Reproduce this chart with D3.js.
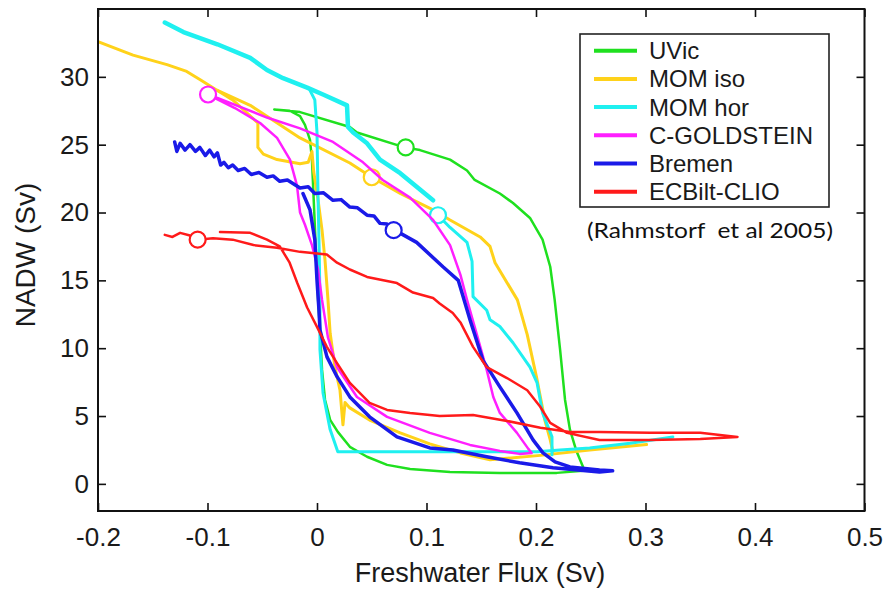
<!DOCTYPE html>
<html>
<head>
<meta charset="utf-8">
<script src="https://cdn.jsdelivr.net/npm/d3@7"></script>
<style>
  body { margin: 0; background: #fff; }
  svg { display: block; font-family: "Liberation Sans", Arial, sans-serif; }
</style>
</head>
<body>
<div id="chart"></div>
<script>
// NADW hysteresis curves vs freshwater flux, six models (Rahmstorf et al 2005)

const models = ["UVic", "MOM iso", "MOM hor", "C-GOLDSTEIN", "Bremen", "ECBilt-CLIO"];
const xTicks = [-0.2, -0.1, 0, 0.1, 0.2, 0.3, 0.4, 0.5];
const yTicks = [0, 5, 10, 15, 20, 25, 30];

// [freshwater flux (Sv), NADW (Sv)]
const uvicLoop = [
  [-0.039, 27.6], [-0.0155, 27.4], [0.030, 26.3], [0.0365, 25.9], [0.080, 24.8], [0.094, 24.6],
  [0.1215, 23.9], [0.137, 23.1], [0.144, 22.4], [0.167, 21.4], [0.179, 20.7], [0.1945, 19.6],
  [0.206, 18.0], [0.213, 16.0], [0.217, 13.6], [0.222, 9.9], [0.2265, 6.2], [0.231, 4.0],
  [0.237, 2.4], [0.243, 1.25], [0.243, 0.96], [0.219, 0.81], [0.167, 0.81], [0.1215, 0.88],
  [0.085, 1.1], [0.064, 1.4], [0.0457, 2.0], [0.030, 2.73], [0.019, 3.83], [0.012, 4.72],
  [0.0073, 6.2], [0.0046, 8.4], [0.0027, 11.35], [0.001, 13.56], [-0.001, 17.24], [-0.003, 20.93],
  [-0.0046, 23.9], [-0.0064, 25.35], [-0.011, 26.46], [-0.0155, 27.1], [-0.025, 27.5], [-0.039, 27.6]
];

const momIsoStep = [
  [-0.2, 32.6], [-0.168, 31.6], [-0.137, 30.9], [-0.119, 30.4], [-0.107, 29.8], [-0.091, 29.0],
  [-0.077, 28.3], [-0.054, 26.6], [-0.054, 24.8], [-0.049, 24.3], [-0.0365, 23.9], [-0.0155, 23.6],
  [-0.008, 23.7], [-0.0046, 24.5], [-0.003, 23.0], [0.001, 20.9], [0.0046, 18.7], [0.0073, 16.5],
  [0.010, 13.6], [0.012, 11.1], [0.0164, 8.6], [0.021, 6.9], [0.0237, 4.35], [0.0256, 6.0],
  [0.030, 5.6], [0.048, 4.7], [0.076, 3.76], [0.103, 2.95], [0.131, 2.28], [0.158, 1.77],
  [0.204, 2.1], [0.249, 2.5], [0.301, 2.9]
];
const momIsoUpper = [
  [-0.091, 29.0], [-0.061, 27.9], [-0.0155, 25.5], [0.030, 23.65], [0.050, 22.6], [0.076, 21.4],
  [0.106, 20.2], [0.1215, 19.45], [0.149, 18.2], [0.158, 17.5], [0.1626, 16.3], [0.176, 14.5],
  [0.183, 13.56], [0.192, 11.0], [0.201, 7.66], [0.208, 4.72], [0.213, 3.24], [0.2155, 2.36]
];

const momHorUpper = [
  [-0.139, 34.0], [-0.122, 33.3], [-0.091, 32.4], [-0.061, 31.4], [-0.0457, 30.5], [-0.031, 29.9],
  [-0.009, 29.2], [0.0055, 28.7], [0.0274, 27.9], [0.0283, 26.3], [0.033, 25.9], [0.0457, 25.1],
  [0.0575, 23.9], [0.076, 22.9], [0.106, 20.9]
];
const momHorDrop = [
  [-0.0064, 29.0], [-0.002, 28.3], [0, 25.9], [0.001, 20.9], [0.002, 17.2], [0.0027, 13.6],
  [0.0027, 9.9], [0.0055, 6.7], [0.012, 4.0], [0.019, 2.36], [0.103, 2.36], [0.201, 2.36],
  [0.222, 2.5], [0.249, 2.65], [0.286, 3.0], [0.325, 3.46]
];
const momHorReturn = [
  [0.1105, 19.8], [0.1215, 18.9], [0.137, 17.8], [0.1416, 16.4], [0.1425, 13.8], [0.155, 12.8],
  [0.158, 12.1], [0.167, 11.6], [0.179, 10.4], [0.1945, 8.6], [0.201, 7.44], [0.206, 5.23],
  [0.2146, 3.46], [0.2146, 2.14]
];

const goldsteinLoop = [
  [-0.0995, 28.7], [-0.091, 28.45], [-0.0457, 27.0], [-0.0155, 26.2], [0.0146, 25.2], [0.042, 23.7],
  [0.060, 22.4], [0.085, 21.1], [0.106, 19.45], [0.1215, 17.6], [0.131, 15.4], [0.137, 13.56],
  [0.146, 11.0], [0.155, 8.4], [0.161, 6.4], [0.167, 5.23], [0.1826, 3.76], [0.193, 2.58],
  [0.196, 2.28], [0.185, 2.21], [0.167, 2.43], [0.1397, 2.87], [0.103, 3.76], [0.064, 4.94],
  [0.0365, 6.4], [0.0183, 8.6], [0.010, 10.8], [0.0046, 13.56], [0.001, 15.8], [-0.0046, 17.6],
  [-0.011, 19.1], [-0.0155, 20.0], [-0.0183, 22.0], [-0.0247, 23.9], [-0.0365, 25.5], [-0.052, 26.6],
  [-0.075, 27.7], [-0.095, 28.5]
];

const bremenLoop = [
  [-0.130, 25.2], [-0.128, 24.5], [-0.125, 25.1], [-0.1205, 24.6], [-0.116, 25.0], [-0.111, 24.5],
  [-0.107, 24.8], [-0.102, 24.2], [-0.098, 24.6], [-0.094, 24.1], [-0.091, 24.4], [-0.088, 23.5],
  [-0.085, 23.7], [-0.081, 23.3], [-0.077, 23.5], [-0.072, 23.1], [-0.066, 23.25], [-0.060, 22.8],
  [-0.053, 22.95], [-0.0457, 22.6], [-0.040, 22.7], [-0.034, 22.3], [-0.027, 22.4], [-0.0155, 21.8],
  [-0.008, 21.9], [-0.002, 21.4], [0.006, 21.45], [0.0146, 20.9], [0.022, 20.95], [0.030, 20.4],
  [0.037, 20.35], [0.0457, 19.8], [0.052, 19.75], [0.0575, 19.2], [0.064, 19.15], [0.071, 18.7],
  [0.091, 17.8], [0.115, 16.0], [0.129, 15.0], [0.1397, 12.1], [0.1516, 9.1], [0.167, 7.15],
  [0.1826, 5.23], [0.1973, 3.24], [0.2064, 2.28], [0.2174, 1.62], [0.231, 1.25], [0.258, 1.03],
  [0.270, 0.96], [0.258, 0.88], [0.2155, 1.18], [0.185, 1.55], [0.155, 2.0], [0.124, 2.5],
  [0.103, 2.65], [0.073, 3.46], [0.048, 4.94], [0.030, 6.41], [0.0183, 7.9], [0.0091, 9.36],
  [0.0027, 11.35], [0.0018, 12.8], [0, 15.0], [-0.002, 18.0], [-0.0064, 20.2], [-0.0128, 21.4]
];

const ecbiltLoop = [
  [-0.139, 18.35], [-0.132, 18.2], [-0.125, 18.5], [-0.116, 18.3], [-0.109, 18.0], [-0.095, 18.1],
  [-0.077, 18.0], [-0.058, 17.6], [-0.0365, 17.4], [-0.0155, 17.1], [0.009, 16.9], [0.0183, 16.3],
  [0.030, 15.8], [0.0457, 15.25], [0.073, 14.8], [0.0877, 14.1], [0.106, 13.7], [0.112, 13.3],
  [0.124, 12.6], [0.131, 11.9], [0.1425, 10.1], [0.155, 8.6], [0.1735, 7.8], [0.192, 6.9],
  [0.2037, 5.7], [0.213, 4.5], [0.2283, 3.76], [0.258, 3.24], [0.304, 3.24], [0.350, 3.3],
  [0.384, 3.46], [0.350, 3.76], [0.304, 3.76], [0.258, 3.83], [0.231, 3.83], [0.204, 4.13],
  [0.1735, 4.64], [0.1425, 5.08], [0.112, 5.0], [0.085, 5.23], [0.064, 5.45], [0.048, 5.97],
  [0.030, 7.44], [0.0183, 8.9], [0.009, 10.1], [0, 11.57], [-0.009, 13.0], [-0.018, 14.8],
  [-0.025, 16.3], [-0.034, 17.5], [-0.0457, 18.0], [-0.061, 18.5], [-0.0886, 18.57]
];

// present-day state of each model (circles)
const presentDay = [[0.081, 24.8], [0.050, 22.6], [0.1105, 19.8], [-0.0995, 28.7], [0.070, 18.7], [-0.109, 18.0]];

const colors = ["#1fe01f", "#ffd21a", "#1ff0f0", "#ff1fff", "#1a1ae8", "#ff1a1a"];

const segments = [
  { m: 0, pts: uvicLoop, w: 2.5 },
  { m: 1, pts: momIsoStep, w: 3 },
  { m: 1, pts: momIsoUpper, w: 3 },
  { m: 2, pts: momHorUpper, w: 4.5 },
  { m: 2, pts: momHorDrop, w: 3 },
  { m: 2, pts: momHorReturn, w: 3 },
  { m: 3, pts: goldsteinLoop, w: 2.5 },
  { m: 4, pts: bremenLoop, w: 3.5 },
  { m: 5, pts: ecbiltLoop, w: 2.5 }
];

const width = 886, height = 593;
const plot = { left: 98, right: 864.5, top: 9, bottom: 511 };

const svg = d3.select("#chart").append("svg")
  .attr("width", width).attr("height", height)
  .attr("viewBox", [0, 0, width, height]);

svg.append("rect").attr("width", width).attr("height", height).attr("fill", "#fff");

// --- Scales ---
const x = d3.scaleLinear().domain([-0.2, 0.5]).range([plot.left, plot.right]);
const y = d3.scaleLinear().domain([-2, 35]).range([plot.bottom, plot.top]);

svg.append("clipPath").attr("id", "clip")
  .append("rect")
  .attr("x", plot.left).attr("y", plot.top)
  .attr("width", plot.right - plot.left).attr("height", plot.bottom - plot.top);

// --- Curves ---
const line = d3.line().x(d => x(d[0])).y(d => y(d[1]));
const g = svg.append("g").attr("clip-path", "url(#clip)");

models.forEach((name, i) => {
  segments.filter(s => s.m === i).forEach(s => {
    g.append("path")
      .attr("d", line(s.pts))
      .attr("fill", "none")
      .attr("stroke", colors[i])
      .attr("stroke-width", s.w)
      .attr("stroke-linejoin", "round")
      .attr("stroke-linecap", "round");
  });
  g.append("circle")
    .attr("cx", x(presentDay[i][0]))
    .attr("cy", y(presentDay[i][1]))
    .attr("r", 8)
    .attr("fill", "#fff")
    .attr("stroke", colors[i])
    .attr("stroke-width", 2.2);
});

// --- Axes (inward ticks, boxed) ---
const fmt = d => String(d);
const tickStyle = sel => {
  sel.select(".domain").remove();
  sel.selectAll(".tick line").attr("stroke", "#111").attr("stroke-width", 1.6);
  sel.selectAll(".tick text").attr("fill", "#1a1a1a").style("font-size", "26px");
};

svg.append("g")
  .attr("transform", `translate(0,${plot.bottom})`)
  .call(d3.axisBottom(x).tickValues(xTicks).tickFormat(fmt).tickSizeInner(-8).tickSizeOuter(0).tickPadding(17))
  .call(tickStyle);

svg.append("g")
  .attr("transform", `translate(0,${plot.top})`)
  .call(d3.axisTop(x).tickValues(xTicks).tickFormat("").tickSizeInner(-8).tickSizeOuter(0))
  .call(tickStyle);

svg.append("g")
  .attr("transform", `translate(${plot.left},0)`)
  .call(d3.axisLeft(y).tickValues(yTicks).tickFormat(fmt).tickSizeInner(-8).tickSizeOuter(0).tickPadding(9))
  .call(tickStyle);

svg.append("g")
  .attr("transform", `translate(${plot.right},0)`)
  .call(d3.axisRight(y).tickValues(yTicks).tickFormat("").tickSizeInner(-8).tickSizeOuter(0))
  .call(tickStyle);

svg.append("rect")
  .attr("x", plot.left).attr("y", plot.top)
  .attr("width", plot.right - plot.left).attr("height", plot.bottom - plot.top)
  .attr("fill", "none").attr("stroke", "#111").attr("stroke-width", 2);

// --- Axis labels ---
svg.append("text")
  .attr("x", 480).attr("y", 582)
  .attr("text-anchor", "middle")
  .attr("fill", "#1a1a1a")
  .style("font-size", "27px")
  .text("Freshwater Flux (Sv)");

svg.append("text")
  .attr("transform", "translate(35,255) rotate(-90)")
  .attr("text-anchor", "middle")
  .attr("fill", "#1a1a1a")
  .style("font-size", "28px")
  .text("NADW (Sv)");

// --- Legend ---
const legend = svg.append("g");
legend.append("rect")
  .attr("x", 580).attr("y", 34).attr("width", 249).attr("height", 173)
  .attr("fill", "#fff").attr("stroke", "#222").attr("stroke-width", 1.6);

models.forEach((name, i) => {
  const ly = 50.7 + i * 28.2;
  legend.append("line")
    .attr("x1", 594).attr("x2", 637).attr("y1", ly).attr("y2", ly)
    .attr("stroke", colors[i]).attr("stroke-width", 4);
  legend.append("text")
    .attr("x", 649).attr("y", ly)
    .attr("dy", "0.35em")
    .attr("fill", "#1a1a1a")
    .style("font-size", "24px")
    .text(name);
});

svg.append("text")
  .attr("x", 587).attr("y", 238)
  .attr("fill", "#111")
  .attr("textLength", 246)
  .attr("lengthAdjust", "spacingAndGlyphs")
  .style("font-family", "Lato, 'Open Sans', sans-serif")
  .style("font-size", "21px")
  .style("white-space", "pre")
  .text("(Rahmstorf  et al 2005)");
</script>
</body>
</html>
